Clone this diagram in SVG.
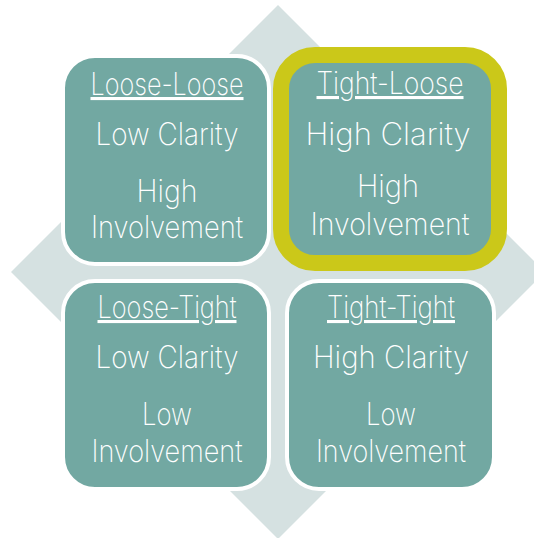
<svg xmlns="http://www.w3.org/2000/svg" width="534" height="538" viewBox="0 0 534 538">
  <style>
    .diamond { fill: #D5E1E1; }
    .card { fill: #72A8A2; stroke: #FFFFFF; stroke-width: 4; }
    .card-hl { fill: #72A8A2; stroke: #CBC819; stroke-width: 16; }
    .t { font-family: Inter, Lato, "DejaVu Sans", sans-serif; font-weight: 200; font-size: 31px; fill: #FFFFFF; text-anchor: middle; }
    .head { text-decoration: underline; }
  </style>
  <rect width="534" height="538" fill="#FFFFFF"/>
  <polygon class="diamond" points="278,5 545,272 278,539 11,272"/>

  <g id="loose-loose">
    <rect class="card" x="63" y="56" width="206" height="208" rx="32" ry="32"/>
    <text class="t head" x="167" y="95" textLength="153" lengthAdjust="spacingAndGlyphs">Loose-Loose</text>
    <text class="t" x="167" y="145" textLength="143" lengthAdjust="spacingAndGlyphs">Low Clarity</text>
    <text class="t" x="167" y="202" textLength="61" lengthAdjust="spacingAndGlyphs">High</text>
    <text class="t" x="167" y="238" textLength="152" lengthAdjust="spacingAndGlyphs">Involvement</text>
  </g>

  <g id="tight-loose">
    <rect class="card-hl" x="281" y="55" width="218" height="208" rx="34" ry="34"/>
    <text class="t head" x="390" y="94" textLength="147" lengthAdjust="spacingAndGlyphs">Tight-Loose</text>
    <text class="t" x="388" y="145" textLength="165" lengthAdjust="spacingAndGlyphs">High Clarity</text>
    <text class="t" x="388" y="197" textLength="62" lengthAdjust="spacingAndGlyphs">High</text>
    <text class="t" x="390" y="235" textLength="159" lengthAdjust="spacingAndGlyphs">Involvement</text>
  </g>

  <g id="loose-tight">
    <rect class="card" x="63" y="281" width="206" height="208" rx="32" ry="32"/>
    <text class="t head" x="167" y="318" textLength="139" lengthAdjust="spacingAndGlyphs">Loose-Tight</text>
    <text class="t" x="167" y="368" textLength="143" lengthAdjust="spacingAndGlyphs">Low Clarity</text>
    <text class="t" x="167" y="425" textLength="50" lengthAdjust="spacingAndGlyphs">Low</text>
    <text class="t" x="167" y="462" textLength="151" lengthAdjust="spacingAndGlyphs">Involvement</text>
  </g>

  <g id="tight-tight">
    <rect class="card" x="287" y="281" width="207" height="208" rx="32" ry="32"/>
    <text class="t head" x="391" y="318" textLength="128" lengthAdjust="spacingAndGlyphs">Tight-Tight</text>
    <text class="t" x="391" y="368" textLength="156" lengthAdjust="spacingAndGlyphs">High Clarity</text>
    <text class="t" x="391" y="425" textLength="50" lengthAdjust="spacingAndGlyphs">Low</text>
    <text class="t" x="391" y="462" textLength="150" lengthAdjust="spacingAndGlyphs">Involvement</text>
  </g>

  <g id="connectors"/>
</svg>
